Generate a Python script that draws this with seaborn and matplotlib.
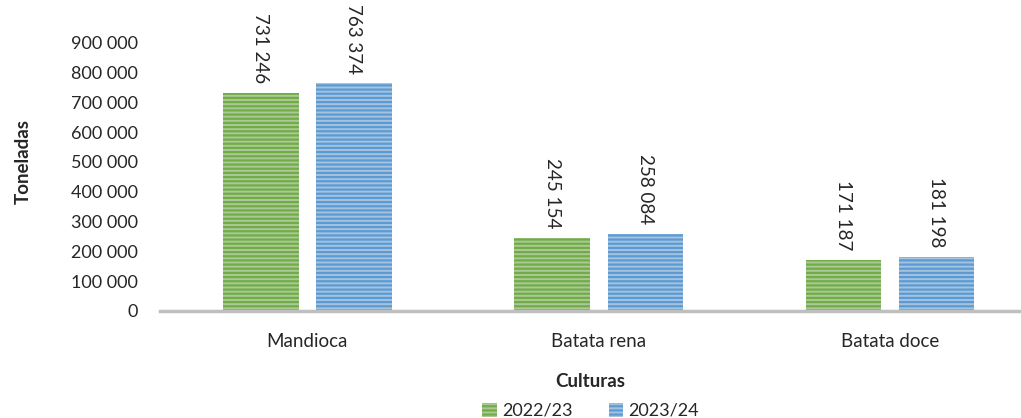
import matplotlib
matplotlib.use("Agg")
from matplotlib import pyplot as plt
import seaborn as sns
import pandas as pd

culturas = ["Mandioca", "Batata rena", "Batata doce"]
safras = ["2022/23", "2023/24"]
valores_2223 = [731246, 245154, 171187]
valores_2324 = [763374, 258084, 181198]

fill_cores = ["#a9d18e", "#9dc3e6"]
linha_cores = ["#70ad47", "#5b9bd5"]

df = pd.DataFrame({
    "Cultura": culturas * 2,
    "Safra": [safras[0]] * 3 + [safras[1]] * 3,
    "Toneladas": valores_2223 + valores_2324,
})

sns.set_style("white")
plt.rcParams["font.family"] = ["Lato", "DejaVu Sans"]
plt.rcParams["hatch.linewidth"] = 1.6

fig = plt.figure(figsize=(10.21, 4.18), dpi=100)
ax = fig.add_axes([0.157, 0.256, 0.843, 0.713])

sns.barplot(data=df, x="Cultura", y="Toneladas", hue="Safra", order=culturas,
            hue_order=safras, palette=fill_cores, width=0.64, gap=0.19,
            linewidth=0, ax=ax, legend=False)

for cont, cor in zip(ax.containers, linha_cores):
    for p in cont:
        p.set_edgecolor(cor)
        p.set_hatch("----")
        p.set_linewidth(0)
    labels = [f"{int(v):,}".replace(",", " ") for v in cont.datavalues]
    ax.bar_label(cont, labels=labels, rotation=-90, padding=7, fontsize=13.5)

ax.set_ylim(0, 1000000)
ax.set_xlim(-0.505, 2.45)
ticks = list(range(0, 1000000, 100000))
ax.set_yticks(ticks)
ax.set_yticklabels([f"{t:,}".replace(",", " ") for t in ticks], fontsize=13)
ax.tick_params(axis="x", labelsize=13.5, pad=12)
ax.tick_params(axis="y", pad=16, length=0)

for s in ["top", "right", "left"]:
    ax.spines[s].set_visible(False)
ax.spines["bottom"].set_color("#bfbfbf")
ax.spines["bottom"].set_linewidth(2.5)

ax.set_xlabel("Culturas", fontsize=13.5, fontweight="bold", labelpad=17)
ax.set_ylabel("Toneladas", fontsize=13.5, fontweight="bold", labelpad=28)

handles = [cont.patches[0] for cont in ax.containers]
leg = ax.legend(handles, safras, loc="center", bbox_to_anchor=(0.5, -0.335),
                ncol=2, frameon=False, fontsize=13, handlelength=0.8,
                handleheight=0.8, handletextpad=0.3, columnspacing=2.0)

fig.savefig("out.png", dpi=100)
